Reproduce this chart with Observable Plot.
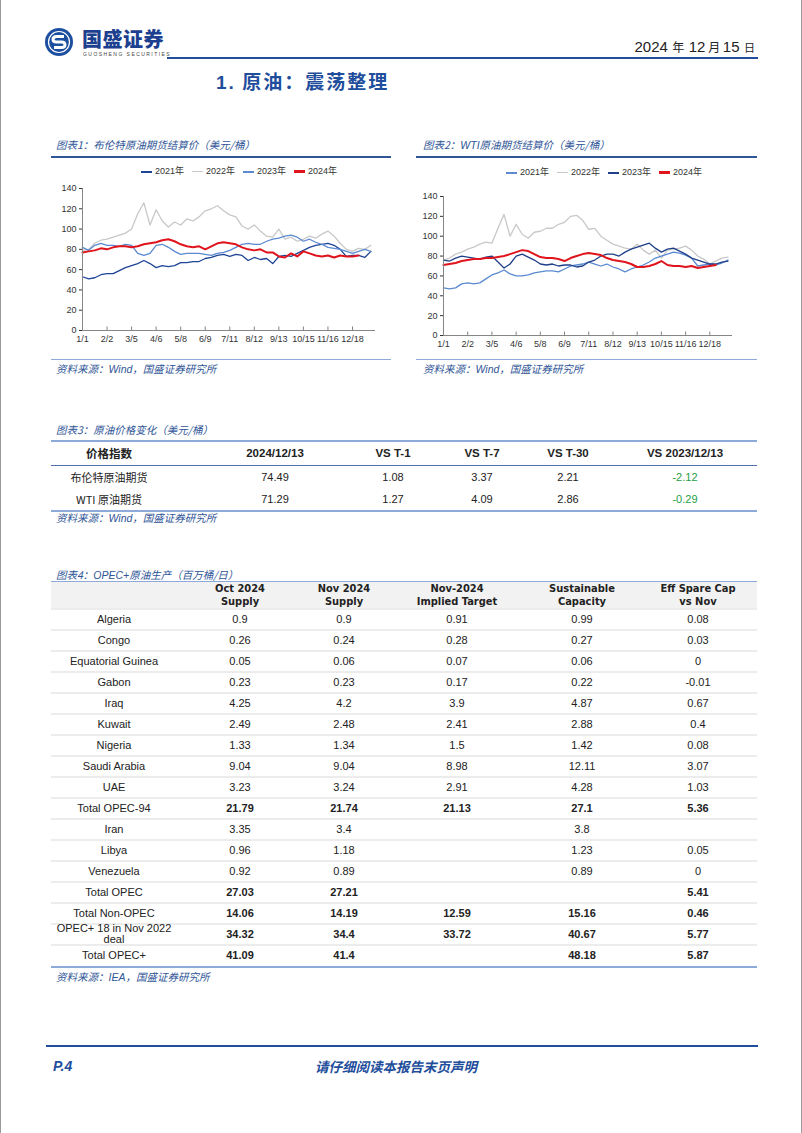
<!DOCTYPE html>
<html><head><meta charset="utf-8">
<script src="https://cdn.jsdelivr.net/npm/d3@7"></script>
<script src="https://cdn.jsdelivr.net/npm/@observablehq/plot@0.6"></script>
<style>
body{margin:0;background:#fff;font-family:"Liberation Sans",Arial,"Noto Sans CJK SC",sans-serif;}
#page{position:relative;width:802px;height:1133px;overflow:hidden;box-sizing:border-box;border-left:1px solid #9a9a9a;border-right:1px solid #9a9a9a;}
.abs{position:absolute;white-space:nowrap;}
.cap{font-family:"Noto Sans CJK SC",sans-serif;font-style:italic;color:#2f5597;font-size:10.5px;line-height:12px;}
.cap .lat{font-family:"Liberation Sans",Arial,sans-serif;}
.hl{position:absolute;}
.cell{position:absolute;text-align:center;white-space:nowrap;color:#222;font-size:11px;}
.legend{position:absolute;display:flex;align-items:center;font-size:9px;color:#333;line-height:11px;}
.legend span.sw{display:inline-block;width:11px;margin-right:3px;}
.legend span.it{margin-right:8px;font-family:"Liberation Sans",Arial,"Noto Sans CJK SC";}
</style></head>
<body><div id="page"></div>
<script>
// ---------------- DATA ----------------
const seriesYears = ["2021年","2022年","2023年","2024年"];
const xTickLabels = ["1/1","2/2","3/5","4/6","5/8","6/9","7/11","8/12","9/13","10/15","11/16","12/18"];
const xTickPos = [0,32,64,96,128,160,192,224,256,288,320,352];
const yTicks = [0,20,40,60,80,100,120,140];
const sampleStep = 8; // axis days between readings

const brent2021 = [53,51,52,55,56,56,59,62,64,66,69,66,62,64,63,64,67,67,68,68,71,72,74,75,73,75,74,69,72,70,71,66,73,74,73,76,79,82,84,85,86,84,80,73,74,74,72,78];
const brent2022 = [79,80,86,89,90,92,94,96,100,115,126,104,119,108,102,107,104,110,108,112,118,120,123,118,114,112,103,100,104,98,93,92,100,90,92,88,90,93,91,95,98,93,86,80,78,81,80,84];
const brent2023 = [82,79,84,86,84,84,83,85,84,76,74,76,84,85,82,78,75,76,76,76,75,74,76,77,79,82,85,86,85,85,88,90,91,93,94,92,88,90,87,85,82,81,80,78,76,78,80,78];
const brent2024 = [77,78,79,81,80,82,83,83,82,83,85,86,87,89,90,88,85,83,82,83,80,83,86,87,86,85,82,80,79,80,77,77,73,72,76,73,78,76,74,73,74,72,74,73,73,74];

const wti2021 = [48,47,48,52,53,52,53,57,61,63,66,62,60,60,61,63,64,65,65,64,67,70,71,72,74,72,70,72,69,67,64,67,69,71,74,78,80,82,84,83,81,78,70,71,72,71,73,76];
const wti2022 = [76,78,82,84,87,89,92,94,93,108,122,100,112,102,98,104,105,108,108,112,114,120,121,116,107,108,100,96,92,90,88,87,92,86,82,86,78,86,87,88,90,86,80,77,72,75,78,79];
const wti2023 = [76,75,78,80,79,78,77,79,80,74,68,72,80,82,79,76,72,71,72,70,71,71,69,70,74,76,80,82,82,80,84,87,89,91,93,88,84,87,88,85,82,78,76,74,72,72,74,75];
const wti2024 = [71,72,73,75,76,77,77,78,78,79,80,82,84,86,85,82,79,78,78,77,75,78,80,82,83,82,81,78,76,75,74,72,69,69,70,72,75,71,70,70,69,70,68,69,70,71];

const priceHeaders = ["价格指数","2024/12/13","VS T-1","VS T-7","VS T-30","VS 2023/12/13"];
const priceNames = ["布伦特原油期货","WTI 原油期货"];
const priceLatest = [74.49,71.29];
const priceVsT1 = [1.08,1.27];
const priceVsT7 = [3.37,4.09];
const priceVsT30 = [2.21,2.86];
const priceVsYoY = [-2.12,-0.29];

const opecHeaders = [["",""],["Oct 2024","Supply"],["Nov 2024","Supply"],["Nov-2024","Implied Target"],["Sustainable","Capacity"],["Eff Spare Cap","vs Nov"]];
const opecRows = ["Algeria","Congo","Equatorial Guinea","Gabon","Iraq","Kuwait","Nigeria","Saudi Arabia","UAE","Total OPEC-94","Iran","Libya","Venezuela","Total OPEC","Total Non-OPEC","OPEC+ 18 in Nov 2022|deal","Total OPEC+"];
const octSupply = [0.9,0.26,0.05,0.23,4.25,2.49,1.33,9.04,3.23,21.79,3.35,0.96,0.92,27.03,14.06,34.32,41.09];
const novSupply = [0.9,0.24,0.06,0.23,4.2,2.48,1.34,9.04,3.24,21.74,3.4,1.18,0.89,27.21,14.19,34.4,41.4];
const novTarget = [0.91,0.28,0.07,0.17,3.9,2.41,1.5,8.98,2.91,21.13,null,null,null,null,12.59,33.72,null];
const sustCapacity = [0.99,0.27,0.06,0.22,4.87,2.88,1.42,12.11,4.28,27.1,3.8,1.23,0.89,null,15.16,40.67,48.18];
const spareCap = [0.08,0.03,0,-0.01,0.67,0.4,0.08,3.07,1.03,5.36,null,0.05,0,5.41,0.46,5.77,5.87];
const totalRow = [0,0,0,0,0,0,0,0,0,1,0,0,0,1,1,1,1];

// ---------------- LAYOUT HELPERS ----------------
const page = document.getElementById("page");
function add(html, style, cls){const d=document.createElement("div");d.className=cls||"abs";d.innerHTML=html;Object.assign(d.style,style);page.appendChild(d);return d;}
function hline(x,y,w,h,c){add("",{left:x+"px",top:y+"px",width:w+"px",height:h+"px",background:c},"hl");}
function cellAt(text,cx,cy,w,extra){const st=Object.assign({left:(cx-w/2)+"px",top:(cy-7)+"px",width:w+"px",lineHeight:"14px"},extra||{});return add(text,st,"cell");}

// header
const logo = `<svg width="30" height="30" viewBox="0 0 30 30"><circle cx="15" cy="15" r="14" fill="#1d4fa0"/><circle cx="15" cy="15" r="10.5" fill="none" stroke="#fff" stroke-width="1.2"/><path d="M20 9.5 H12.5 Q9 9.5 9 12.5 Q9 15 12.5 15 H17.5 Q21 15 21 17.8 Q21 20.5 17.5 20.5 H10" fill="none" stroke="#fff" stroke-width="3"/></svg>`;
add(logo,{left:"43px",top:"27px"});
add("国盛证券",{left:"81px",top:"27px",fontFamily:"Noto Sans CJK SC",fontWeight:"900",fontSize:"20px",lineHeight:"24px",color:"#1d3f8f",letterSpacing:"0.5px"});
add("GUOSHENG SECURITIES",{left:"82px",top:"51px",fontSize:"5px",lineHeight:"6px",letterSpacing:"1.45px",color:"#444"});
hline(166,57,591,2,"#1f4e9c");
add(`<span style="font-size:15px">2024</span> <span style="font-family:'Noto Sans CJK SC';font-size:12px">年</span> <span style="font-size:15px">12</span><span style="font-family:'Noto Sans CJK SC';font-size:12px"> 月 </span><span style="font-size:15px">15</span> <span style="font-family:'Noto Sans CJK SC';font-size:11px">日</span>`,{right:"46px",top:"37px",lineHeight:"20px",color:"#222"});
add(`<span style="font-family:'Liberation Sans'">1.</span> 原油：震荡整理`,{left:"215px",top:"69px",fontFamily:"Noto Sans CJK SC",fontWeight:"700",fontSize:"19px",letterSpacing:"2px",lineHeight:"24px",color:"#1f4e9c"});

// chart captions
add(`图表1：布伦特原油期货结算价（美元/桶）`,{left:"55px",top:"139px"},"abs cap");
add(`图表2：<span class="lat">WTI</span>原油期货结算价（美元/桶）`,{left:"422px",top:"139px"},"abs cap");
hline(50,156,340,2,"#2f5597");
hline(415,156,341,2,"#2f5597");
hline(50,359,340,1,"#8eaadb");
hline(415,359,341,1,"#8eaadb");
add(`资料来源：<span class="lat">Wind</span>，国盛证券研究所`,{left:"55px",top:"363px"},"abs cap");
add(`资料来源：<span class="lat">Wind</span>，国盛证券研究所`,{left:"422px",top:"363px"},"abs cap");

// legends
function legend(colors,widths,left,top){
  const html = seriesYears.map((y,k)=>`<span class="sw" style="height:${widths[k]}px;background:${colors[k]}"></span><span class="it">${y}</span>`).join("");
  add(html,{left:left+"px",top:top+"px"},"legend");
}
const c1 = ["#1f4597","#c8c8c8","#5b8ad0","#e0141c"];
const c2 = ["#5b8ad0","#c8c8c8","#1f3f88","#e0141c"];
legend(c1,[2,1.5,2,3],140,166);
legend(c2,[2,1.5,2,3],505,167);

// charts
function chart(series,colors,geom){
  const lines = [1,0,2,3].map(k=>{
    const data = series[k].map((v,i)=>({x:i*sampleStep,y:v}));
    return Plot.line(data,{x:"x",y:"y",stroke:colors[k],strokeWidth:k===3?2:1.3});
  });
  const svg = Plot.plot({
    width:geom.w,height:geom.h,marginLeft:geom.ml,marginRight:geom.mr,marginTop:8,marginBottom:18,
    style:{fontFamily:"Liberation Sans, Arial, sans-serif",fontSize:"9px",color:"#333",background:"transparent",overflow:"visible"},
    x:{domain:[0,382],ticks:xTickPos,tickFormat:d=>xTickLabels[xTickPos.indexOf(d)],tickSize:0,tickPadding:5,label:null},
    y:{domain:[0,140],ticks:yTicks,tickSize:3,tickPadding:3,label:null},
    marks:[
      Plot.ruleX(xTickPos,{y1:0,y2:3.5,stroke:"#868686"}),
      ...lines,
      Plot.ruleY([0],{stroke:"#868686"}),
      Plot.ruleX([0],{stroke:"#868686"})
    ]
  });
  svg.style.position="absolute";svg.style.left=geom.x+"px";svg.style.top=geom.y+"px";
  page.appendChild(svg);
}
chart([brent2021,brent2022,brent2023,brent2024],c1,{x:50,y:180,w:340,h:168,ml:31,mr:16});
chart([wti2021,wti2022,wti2023,wti2024],c2,{x:415,y:188,w:345,h:165,ml:27,mr:29});

// table 3
add(`图表3：原油价格变化（美元/桶）`,{left:"55px",top:"424px"},"abs cap");
hline(50,440,706,2,"#8eaadb");
hline(50,465,706,1,"#4f6fa8");
hline(50,510,706,1.5,"#8eaadb");
add(`资料来源：<span class="lat">Wind</span>，国盛证券研究所`,{left:"55px",top:"512px"},"abs cap");
const c3 = [108,274,392,481,567,684];
priceHeaders.forEach((h,j)=>cellAt(h,c3[j],453,150,{fontWeight:"700",fontSize:"11.5px",fontFamily:j===0?"Noto Sans CJK SC":"Liberation Sans, Arial"}));
const priceCols = [priceLatest,priceVsT1,priceVsT7,priceVsT30,priceVsYoY];
priceNames.forEach((n,i)=>{
  const cy = 477+22*i;
  cellAt(n,c3[0],cy,150,{fontFamily:"Noto Sans CJK SC",fontSize:"11px"});
  priceCols.forEach((col,j)=>{
    const v = col[i];
    cellAt(String(v),c3[j+1],cy,120,{color:v<0?"#1e9e45":"#222"});
  });
});

// table 4
add(`图表4：<span class="lat">OPEC+</span>原油生产（百万桶/日）`,{left:"55px",top:"569px"},"abs cap");
hline(50,581,706,1,"#8eaadb");
hline(50,582,706,27,"#f2f2f2");
const c4 = [113,239,343,456,581,697];
opecHeaders.forEach((h,j)=>{
  add(h[0]+"<br>"+h[1],{left:(c4[j]-75)+"px",top:"582px",width:"150px",lineHeight:"13px",fontWeight:"700",fontSize:"11px",fontFamily:"DejaVu Sans Condensed, Liberation Sans, Arial"},"cell");
});
const opecCols = [octSupply,novSupply,novTarget,sustCapacity,spareCap];
opecRows.forEach((name,i)=>{
  const cy = 619+21*i;
  hline(50,cy-11,706,2,"#ececec");
  const lbl = name.split("|");
  if(lbl.length>1){
    add(lbl[0]+"<br>"+lbl[1],{left:(c4[0]-75)+"px",top:(cy-11)+"px",width:"150px",lineHeight:"11px",fontSize:"11px"},"cell");
  } else cellAt(name,c4[0],cy,150);
  opecCols.forEach((col,j)=>{
    const v = col[i];
    if(v===null) return;
    cellAt(String(v),c4[j+1],cy,120,totalRow[i]?{fontWeight:"700"}:{});
  });
});
hline(50,966,706,1.5,"#8eaadb");
add(`资料来源：<span class="lat">IEA</span>，国盛证券研究所`,{left:"55px",top:"971px"},"abs cap");

// footer
hline(45,1045,712,2,"#1f4e9c");
add("P.4",{left:"52px",top:"1057px",fontWeight:"700",fontStyle:"italic",fontSize:"14px",lineHeight:"18px",color:"#1f4e9c"});
add("请仔细阅读本报告末页声明",{left:"314px",top:"1057px",fontFamily:"Noto Sans CJK SC",fontWeight:"700",fontStyle:"italic",fontSize:"13.5px",lineHeight:"18px",color:"#1f4e9c"});
</script></body></html>
